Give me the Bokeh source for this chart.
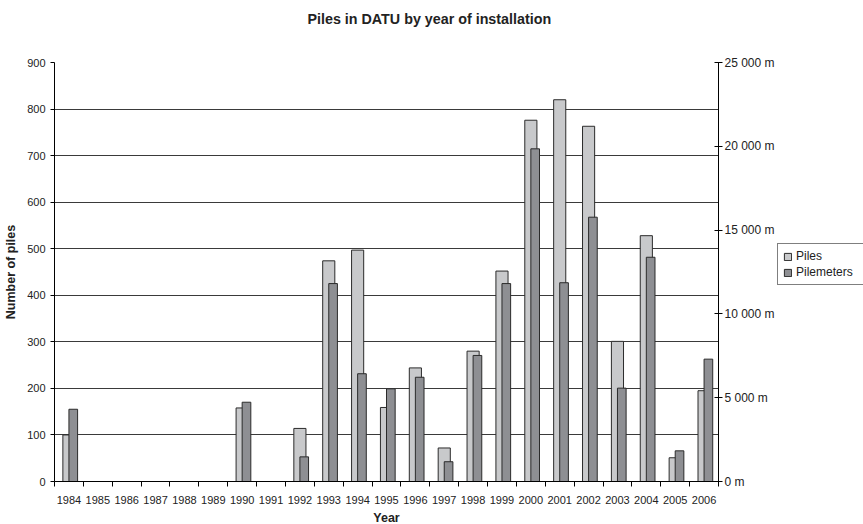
from bokeh.plotting import figure
from bokeh.layouts import row
from bokeh.models import (Range1d, LinearAxis, FixedTicker, Legend, LegendItem,
                          ColumnDataSource)
from bokeh.transform import dodge
from bokeh.embed import file_html
from bokeh.resources import INLINE

# Installation data per year
years = [str(y) for y in range(1984, 2007)]
piles = [100, 0, 0, 0, 0, 0, 158, 0, 114, 474, 497, 159, 244, 72, 280, 452,
         776, 820, 763, 301, 528, 51, 195]
pilemeters = [4310, 0, 0, 0, 0, 0, 4730, 0, 1470, 11810, 6430, 5530, 6220,
              1180, 7520, 11810, 19850, 11860, 15770, 5570, 13380, 1830, 7300]

left_ticks = list(range(0, 901, 100))
right_ticks = list(range(0, 25001, 5000))

FONT = "Liberation Sans"
LIGHT = "#c8c9cb"
DARK = "#8e8f93"
EDGE = "#2b2b2b"
TEXT = "#222222"

centers = [i + 0.5 for i in range(len(years))]
src = ColumnDataSource(dict(x=centers, piles=piles, meters=pilemeters))

p = figure(frame_width=664, frame_height=419, output_backend="svg",
           toolbar_location=None,
           x_range=Range1d(0, len(years)), y_range=Range1d(0, 900),
           min_border_left=54, min_border_right=59, min_border_top=62,
           min_border_bottom=43)
p.outline_line_color = None
p.background_fill_color = "white"
p.border_fill_color = "white"

p.extra_y_ranges = {"m": Range1d(0, 25000)}

# title: trailing blank lines lift the heading towards the top edge
p.title.text = "Piles in DATU by year of installation\n \n "
p.title.align = "left"
p.title.offset = 253
p.title.standoff = 8
p.title.text_font = FONT
p.title.text_font_size = "14.3px"
p.title.text_font_style = "bold"
p.title.text_color = TEXT

bars_piles = dict(width=0.42, fill_color=LIGHT, line_color=EDGE, line_width=1)
bars_meters = dict(width=0.30, fill_color=DARK, line_color=EDGE, line_width=1)

p.vbar(x="x", top="piles", source=src, **bars_piles)
p.vbar(x=dodge("x", 0.15), top="meters", source=src, y_range_name="m",
       **bars_meters)

# x axis: labels at category centres, tick marks at category boundaries
xax = p.xaxis[0]
xax.ticker = FixedTicker(ticks=centers, minor_ticks=list(range(len(years) + 1)))
xax.major_label_overrides = {c: y for c, y in zip(centers, years)}
xax.major_tick_out = 0
xax.major_tick_in = 0
xax.minor_tick_out = 5
xax.minor_tick_in = 0
xax.axis_label = "Year"
xax.major_label_standoff = 9

# left axis
yax = p.yaxis[0]
yax.ticker = FixedTicker(ticks=left_ticks)
yax.major_tick_out = 4
yax.major_tick_in = 0
yax.minor_tick_out = 0
yax.minor_tick_in = 0
yax.axis_label = "Number of piles"
yax.major_label_standoff = 5

# right axis in metres
rax = LinearAxis(y_range_name="m", ticker=FixedTicker(ticks=right_ticks))
rax.major_label_overrides = {v: f"{v:,} m".replace(",", " ") for v in right_ticks}
rax.major_tick_out = 4
rax.major_tick_in = 4
rax.minor_tick_out = 0
rax.minor_tick_in = 0
rax.major_label_standoff = 2
p.add_layout(rax, "right")

for ax in (xax, yax, rax):
    ax.axis_line_color = "black"
    ax.major_tick_line_color = "black"
    ax.minor_tick_line_color = "black"
    ax.major_label_text_font = FONT
    ax.major_label_text_font_size = "11px"
    ax.major_label_text_color = TEXT
    ax.axis_label_text_font = FONT
    ax.axis_label_text_font_size = "12.5px"
    ax.axis_label_text_font_style = "bold"
    ax.axis_label_text_color = TEXT
rax.major_label_text_font_size = "12px"
xax.axis_label_standoff = 4
yax.axis_label_standoff = 6

p.xgrid.visible = False
p.ygrid.ticker = FixedTicker(ticks=left_ticks)
p.ygrid.grid_line_color = "#3a3a3a"
p.ygrid.grid_line_width = 1

# legend panel to the right of the chart; its series keys share the bar
# styles (both ranges lie outside the data, so only the legend shows here)
lg = figure(width=86, height=524, output_backend="svg", toolbar_location=None,
            x_axis_location=None, y_axis_location=None, min_border=0,
            x_range=Range1d(-3, -2), y_range=Range1d(-2, -1))
lg.outline_line_color = None
lg.grid.visible = False
lg.border_fill_color = "white"
k1 = lg.vbar(x="x", top="piles", source=src, **bars_piles)
k2 = lg.vbar(x="x", top="meters", source=src, **bars_meters)

legend = Legend(items=[LegendItem(label="Piles", renderers=[k1]),
                       LegendItem(label="Pilemeters", renderers=[k2])],
                location=(0, 193), orientation="vertical")
legend.border_line_color = "black"
legend.border_line_width = 1
legend.background_fill_color = "white"
legend.background_fill_alpha = 1
legend.label_text_font = FONT
legend.label_text_font_size = "12px"
legend.label_text_color = TEXT
legend.glyph_width = 9
legend.glyph_height = 9
legend.label_height = 13
legend.label_width = 70
legend.label_standoff = 4
legend.spacing = 2
legend.padding = 5
legend.margin = 0
lg.add_layout(legend)

open("out.html", "w").write(file_html(row(p, lg, spacing=0), INLINE))
